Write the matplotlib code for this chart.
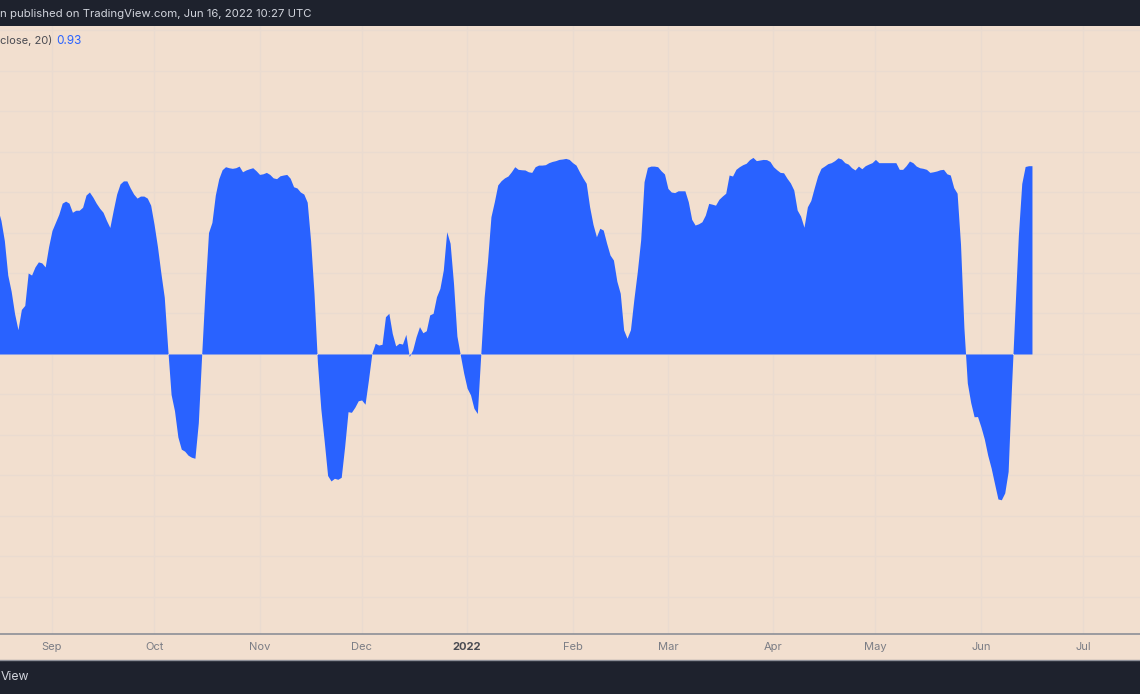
import matplotlib
matplotlib.use('Agg')
import matplotlib.pyplot as plt
import matplotlib.dates as mdates
import numpy as np
import pandas as pd
from matplotlib.patches import Rectangle

plt.rcParams['font.family'] = ['Inter', 'DejaVu Sans']

# ---------------- data (daily values) ----------------
start_date = '2021-08-16'
values = [
    0.72, 0.66, 0.56, 0.39, 0.31, 0.20, 0.12, 0.22, 0.24, 0.40,
    0.39, 0.43, 0.455, 0.45, 0.43, 0.53, 0.61, 0.65, 0.69, 0.745,
    0.755, 0.745, 0.70, 0.71, 0.71, 0.725, 0.785, 0.80, 0.775, 0.745,
    0.72, 0.70, 0.66, 0.625, 0.71, 0.79, 0.84, 0.855, 0.855, 0.82,
    0.79, 0.77, 0.78, 0.78, 0.77, 0.735, 0.64, 0.53, 0.40, 0.28,
    0.03, -0.20, -0.28, -0.41, -0.47, -0.48, -0.50, -0.51, -0.515, -0.34,
    0.0, 0.32, 0.60, 0.65, 0.785, 0.865, 0.91, 0.925, 0.92, 0.917,
    0.92, 0.928, 0.90, 0.909, 0.915, 0.92, 0.905, 0.887, 0.89, 0.897,
    0.887, 0.87, 0.866, 0.88, 0.884, 0.887, 0.868, 0.826, 0.82, 0.80,
    0.79, 0.75, 0.56, 0.30, -0.04, -0.27, -0.43, -0.60, -0.627, -0.614,
    -0.619, -0.609, -0.458, -0.285, -0.288, -0.263, -0.231, -0.227, -0.248, -0.128,
    0.003, 0.053, 0.044, 0.048, 0.184, 0.201, 0.102, 0.04, 0.053, 0.049,
    0.097, -0.013, 0.02, 0.085, 0.135, 0.105, 0.115, 0.193, 0.201, 0.283,
    0.324, 0.415, 0.604, 0.547, 0.349, 0.089, -0.005, -0.095, -0.169, -0.202,
    -0.268, -0.294, -0.005, 0.28, 0.46, 0.678, 0.752, 0.835, 0.856, 0.87,
    0.879, 0.90, 0.925, 0.912, 0.91, 0.909, 0.90, 0.897, 0.925, 0.933,
    0.933, 0.935, 0.945, 0.951, 0.955, 0.961, 0.963, 0.966, 0.961, 0.945,
    0.933, 0.90, 0.87, 0.843, 0.727, 0.64, 0.579, 0.621, 0.612, 0.547,
    0.489, 0.464, 0.36, 0.30, 0.119, 0.078, 0.12, 0.27, 0.405, 0.563,
    0.851, 0.922, 0.928, 0.928, 0.925, 0.905, 0.889, 0.818, 0.80, 0.797,
    0.806, 0.806, 0.806, 0.752, 0.665, 0.637, 0.643, 0.653, 0.686, 0.744,
    0.74, 0.735, 0.764, 0.78, 0.794, 0.884, 0.879, 0.912, 0.925, 0.935,
    0.942, 0.96, 0.971, 0.955, 0.958, 0.961, 0.96, 0.951, 0.925, 0.91,
    0.897, 0.895, 0.868, 0.845, 0.81, 0.711, 0.681, 0.626, 0.727, 0.758,
    0.82, 0.879, 0.917, 0.928, 0.94, 0.945, 0.955, 0.969, 0.963, 0.945,
    0.938, 0.92, 0.909, 0.928, 0.915, 0.93, 0.938, 0.945, 0.961, 0.945,
    0.945, 0.945, 0.945, 0.945, 0.945, 0.912, 0.912, 0.93, 0.953, 0.945,
    0.928, 0.92, 0.917, 0.912, 0.897, 0.90, 0.904, 0.91, 0.912, 0.89,
    0.884, 0.822, 0.794, 0.543, 0.13, -0.143, -0.24, -0.31, -0.309, -0.36,
    -0.42, -0.50, -0.563, -0.64, -0.716, -0.72, -0.686, -0.58, -0.157, 0.217,
    0.586, 0.842, 0.926, 0.93, 0.93,
]
dates = pd.date_range(start_date, periods=len(values), freq='D')

month_ticks = ['2021-09-01', '2021-10-01', '2021-11-01', '2021-12-01', '2022-01-01',
               '2022-02-01', '2022-03-01', '2022-04-01', '2022-05-01', '2022-06-01',
               '2022-07-01']
month_labels = ['Sep', 'Oct', 'Nov', 'Dec', '2022', 'Feb', 'Mar', 'Apr', 'May', 'Jun', 'Jul']
grid_levels = [-1.2, -1.0, -0.8, -0.6, -0.4, -0.2, 0.0, 0.2, 0.4, 0.6, 0.8, 1.0, 1.2, 1.4, 1.6]

header_text = 'n published on TradingView.com, Jun 16, 2022 10:27 UTC'
footer_text = 'View'
indicator_label = 'close, 20)'
last_value_label = '0.93'

# ---------------- styling ----------------
BG = '#f2dfcf'
GRID = '#eadbd0'
DARK = '#1e222d'
BLUE = '#2962ff'

W, H = 1140, 694
fig = plt.figure(figsize=(W / 100, H / 100), dpi=100)
fig.patch.set_facecolor(BG)


def fy(y):
    return 1 - y / H


ax_top, ax_bot = 26, 634
ax = fig.add_axes([0, fy(ax_bot), 1, (ax_bot - ax_top) / H])
ax.set_facecolor(BG)

x = mdates.date2num(dates)
ax.fill_between(x, 0, values, color=BLUE, lw=0, zorder=3)

x0 = mdates.date2num(pd.Timestamp('2021-09-01'))
ax.set_xlim(x0 - 15.28, x0 + 319.75)
ax.set_ylim(-1.383, 1.620)

ax.set_yticks(grid_levels)
ax.set_xticks(mdates.date2num(pd.to_datetime(month_ticks)))
ax.grid(True, color=GRID, lw=1.0, zorder=0)
ax.tick_params(length=0, labelleft=False, labelbottom=False)
for s in ['top', 'left', 'right']:
    ax.spines[s].set_visible(False)
ax.spines['bottom'].set_color('#8d8f97')
ax.spines['bottom'].set_linewidth(1.2)
ax.spines['bottom'].set_zorder(5)

# month labels
for t, lab in zip(pd.to_datetime(month_ticks), month_labels):
    bold = lab == '2022'
    ax.text(mdates.date2num(t), -(647 - ax_bot) / (ax_bot - ax_top), lab,
            transform=ax.get_xaxis_transform(), ha='center', va='center',
            fontsize=8, color='#4a4b52' if bold else '#7b7d85',
            fontweight='bold' if bold else 'normal', clip_on=False)

# header / footer bars
fig.patches.append(Rectangle((0, fy(26)), 1, 26 / H, transform=fig.transFigure,
                             facecolor=DARK, edgecolor='none', zorder=10))
fig.patches.append(Rectangle((0, 0), 1, (H - 660) / H, transform=fig.transFigure,
                             facecolor=DARK, edgecolor='none', zorder=10))
fig.add_artist(plt.Line2D([0, 1], [fy(660), fy(660)], transform=fig.transFigure,
                          color='#8d8f97', lw=1.0, zorder=11))

fig.text(0.5 / W, fy(14), header_text, ha='left', va='center', fontsize=8.2,
         color='#d1d4dc', zorder=12)
fig.text(0.5 / W, fy(677), footer_text, ha='left', va='center', fontsize=8.8,
         color='#d1d4dc', zorder=12)

# indicator legend
fig.text(0.5 / W, fy(41), indicator_label, ha='left', va='center', fontsize=8,
         color='#4a4b52', zorder=12)
fig.text(56 / W, fy(41), last_value_label, ha='left', va='center', fontsize=8.5,
         color=BLUE, zorder=12)

fig.savefig('out.png', dpi=100, facecolor=BG)
